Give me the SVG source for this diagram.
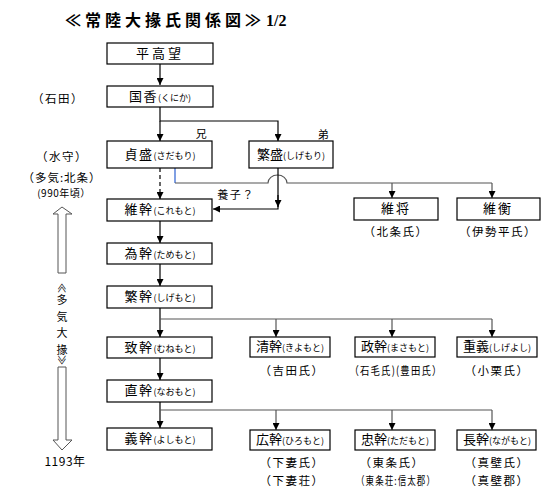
<svg xmlns="http://www.w3.org/2000/svg" width="560" height="490" viewBox="0 0 560 490">
<defs>
<marker id="arr" viewBox="0 0 8 8" refX="8" refY="4" markerWidth="7" markerHeight="7" orient="auto" markerUnits="userSpaceOnUse"><path d="M0,0 L8,4 L0,8 z" fill="#000"/></marker>
</defs>
<style>
text{font-family:"Noto Sans CJK JP","Noto Sans",sans-serif;fill:#000}
.box{fill:#fff;stroke:#000;stroke-width:1.2}
.n{font-size:13px;text-anchor:middle;letter-spacing:1.5px}
.k{font-size:9px;letter-spacing:0}
.lb{font-size:11.5px;text-anchor:middle;letter-spacing:1.5px}
.v{font-size:11px;text-anchor:middle}
.c{fill:none;stroke:#000;stroke-width:1.2}
.g{fill:none;stroke:#555;stroke-width:1.2}
.ha{fill:#fff;stroke:#555;stroke-width:1}
</style>
<rect width="560" height="490" fill="#fff"/>
<text x="65" y="26" style="font-size:16px;font-weight:bold;letter-spacing:4px">≪常陸大掾氏関係図≫</text>
<text x="266" y="26" style="font-family:'Liberation Serif',serif;font-size:16px;font-weight:bold">1/2</text>

<g id="left">
<text class="lb" x="58" y="103">（石田）</text>
<text class="lb" x="62" y="161">（水守）</text>
<text class="lb" x="62" y="182" style="letter-spacing:1px">（多気:北条）</text>
<text class="lb" x="64" y="197" style="font-size:10px;letter-spacing:0.5px">(990年頃）</text>
<polygon class="ha" points="62,207 72,214 66,214 66,273 58,273 58,214 53,214"/>
<text class="v" transform="translate(62,288) rotate(90)" y="4" style="font-size:10px">≪</text>
<text class="v" x="62" y="304">多</text>
<text class="v" x="62" y="320.5">気</text>
<text class="v" x="62" y="337">大</text>
<text class="v" x="62" y="353.5">掾</text>
<text class="v" transform="translate(62,360) rotate(90)" y="4" style="font-size:10px">≫</text>
<polygon class="ha" points="58,367 66,367 66,440 72,440 62,450 53,440 58,440"/>
<text class="lb" x="65" y="466" style="font-size:12px;letter-spacing:0.5px">1193年</text>
</g>

<g id="connectors">
<path class="c" d="M160,64 V85" marker-end="url(#arr)"/>
<path class="c" d="M160,107 V121 H278 V141" marker-end="url(#arr)"/>
<path class="c" d="M160,121 V141" marker-end="url(#arr)"/>
<path class="c" d="M160,168 V199" stroke-dasharray="4,3" marker-end="url(#arr)"/>
<path d="M175,168 V183" fill="none" stroke="#2a5fd0" stroke-width="1.2"/>
<path class="g" d="M175,183 H268 A9.5,8 0 0 1 287,183 H492"/>
<path class="g" d="M392,183 V198" marker-end="url(#arr)"/>
<path class="g" d="M492,183 V198" marker-end="url(#arr)"/>
<path class="c" d="M278,168 V209 H213" marker-end="url(#arr)"/>
<path class="c" d="M278,195 V207" marker-end="url(#arr)"/>
<path class="c" d="M160,221 V243" marker-end="url(#arr)"/>
<path class="c" d="M160,264 V286" marker-end="url(#arr)"/>
<path class="c" d="M160,308 V337" marker-end="url(#arr)"/>
<path class="g" d="M160,319 H492"/>
<path class="g" d="M276,319 V337" marker-end="url(#arr)"/>
<path class="g" d="M392,319 V337" marker-end="url(#arr)"/>
<path class="g" d="M492,319 V337" marker-end="url(#arr)"/>
<path class="c" d="M160,358 V380" marker-end="url(#arr)"/>
<path class="c" d="M160,402 V428" marker-end="url(#arr)"/>
<path class="g" d="M160,410 H492"/>
<path class="g" d="M276,410 V430" marker-end="url(#arr)"/>
<path class="g" d="M392,410 V430" marker-end="url(#arr)"/>
<path class="g" d="M492,410 V430" marker-end="url(#arr)"/>
</g>
<text class="lb" x="236" y="199" style="font-size:11px">養子？</text>
<text class="lb" x="202" y="138" style="font-size:11px">兄</text>
<text class="lb" x="324" y="139" style="font-size:11px">弟</text>

<g id="n1"><rect class="box" x="107" y="43" width="106" height="21"/><text class="n" x="160" y="58" style="letter-spacing:3px">平高望</text></g>
<g id="n2"><rect class="box" x="107" y="86" width="106" height="21"/><text class="n" x="160" y="101">国香<tspan class="k">(くにか)</tspan></text></g>
<g id="n3"><rect class="box" x="107" y="141" width="105" height="27"/><text class="n" x="160" y="159">貞盛<tspan class="k">(さだもり)</tspan></text></g>
<g id="n4"><rect class="box" x="249" y="141" width="84" height="27"/><text class="n" x="291" y="159" style="letter-spacing:0">繁盛<tspan class="k">(しげもり)</tspan></text></g>
<g id="n5"><rect class="box" x="107" y="199" width="105" height="22"/><text class="n" x="160" y="214">維幹<tspan class="k">(これもと)</tspan></text></g>
<g id="n6"><rect class="box" x="354" y="198" width="84" height="22"/><text class="n" x="396" y="213" style="letter-spacing:2px">維将</text><text class="lb" x="396" y="236">（北条氏）</text></g>
<g id="n7"><rect class="box" x="457" y="198" width="83" height="22"/><text class="n" x="498" y="213" style="letter-spacing:2px">維衡</text><text class="lb" x="498" y="236">（伊勢平氏）</text></g>
<g id="n8"><rect class="box" x="107" y="243" width="105" height="21"/><text class="n" x="160" y="258">為幹<tspan class="k">(ためもと)</tspan></text></g>
<g id="n9"><rect class="box" x="107" y="286" width="105" height="22"/><text class="n" x="160" y="301">繁幹<tspan class="k">(しげもと)</tspan></text></g>
<g id="n10"><rect class="box" x="107" y="337" width="105" height="21"/><text class="n" x="160" y="352">致幹<tspan class="k">(むねもと)</tspan></text></g>
<g id="n11"><rect class="box" x="250" y="337" width="80" height="20"/><text class="n" x="290" y="351" style="letter-spacing:0">清幹<tspan class="k">(きよもと)</tspan></text><text class="lb" x="292" y="375">（吉田氏）</text></g>
<g id="n12"><rect class="box" x="355" y="337" width="80" height="20"/><text class="n" x="395" y="351" style="letter-spacing:0">政幹<tspan class="k">(まさもと)</tspan></text><text class="lb" x="396" y="375" textLength="93" lengthAdjust="spacingAndGlyphs">（石毛氏)(豊田氏）</text></g>
<g id="n13"><rect class="box" x="457" y="337" width="80" height="20"/><text class="n" x="497" y="351" style="letter-spacing:0">重義<tspan class="k">(しげよし)</tspan></text><text class="lb" x="497" y="375">（小栗氏）</text></g>
<g id="n14"><rect class="box" x="107" y="380" width="105" height="22"/><text class="n" x="160" y="395">直幹<tspan class="k">(なおもと)</tspan></text></g>
<g id="n15"><rect class="box" x="107" y="428" width="105" height="22"/><text class="n" x="160" y="443">義幹<tspan class="k">(よしもと)</tspan></text></g>
<g id="n16"><rect class="box" x="250" y="430" width="80" height="20"/><text class="n" x="290" y="444" style="letter-spacing:0">広幹<tspan class="k">(ひろもと)</tspan></text><text class="lb" x="292" y="467">（下妻氏）</text><text class="lb" x="292" y="485">（下妻荘）</text></g>
<g id="n17"><rect class="box" x="355" y="430" width="80" height="20"/><text class="n" x="395" y="444" style="letter-spacing:0">忠幹<tspan class="k">(ただもと)</tspan></text><text class="lb" x="392" y="467">（東条氏）</text><text class="lb" x="396" y="485" textLength="80" lengthAdjust="spacingAndGlyphs">（東条荘:信太郡）</text></g>
<g id="n18"><rect class="box" x="457" y="430" width="79" height="20"/><text class="n" x="497" y="444" style="letter-spacing:0">長幹<tspan class="k">(ながもと)</tspan></text><text class="lb" x="497" y="467">（真壁氏）</text><text class="lb" x="497" y="485">（真壁郡）</text></g>
</svg>
